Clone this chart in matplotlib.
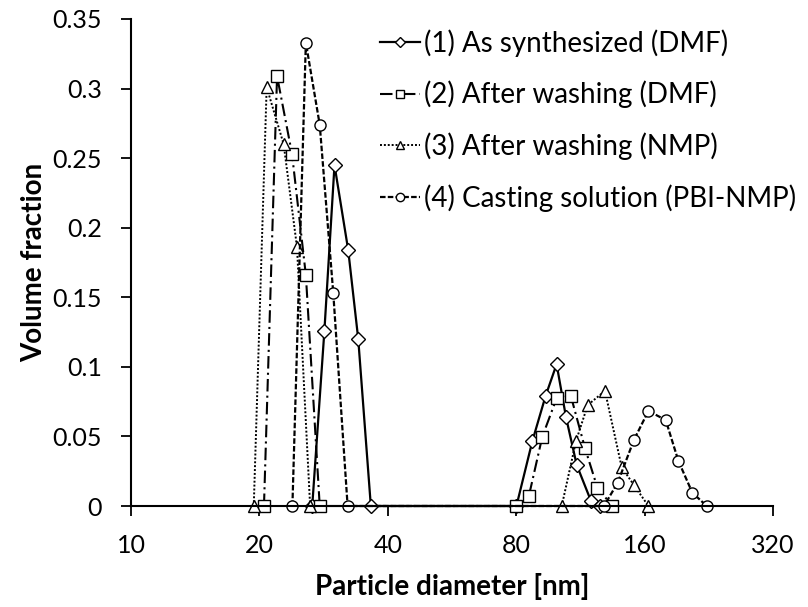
import matplotlib.pyplot as plt
from matplotlib.ticker import FixedLocator, FixedFormatter, NullLocator

plt.rcParams['font.family'] = ['Lato', 'DejaVu Sans']

# particle diameter [nm] and volume fraction for each sample
d1 = [26.6, 28.4, 30.0, 32.3, 34.1, 36.5, 80.1, 87.3, 93.8, 99.5, 104.7, 110.9, 119.8, 126.0]
v1 = [0, 0.1255, 0.245, 0.184, 0.120, 0, 0, 0.0467, 0.0793, 0.1019, 0.0637, 0.0295, 0.0036, 0]

d2 = [20.5, 22.0, 23.85, 25.7, 27.7, 80.0, 85.7, 92.1, 99.5, 107.4, 116.0, 124.0, 134.4]
v2 = [0, 0.309, 0.253, 0.166, 0, 0, 0.0074, 0.0498, 0.0774, 0.0793, 0.0415, 0.0132, 0]

d3 = [19.4, 20.8, 22.8, 24.5, 26.3, 102.3, 110.5, 117.7, 129.2, 141.4, 151.0, 163.3]
v3 = [0, 0.301, 0.260, 0.186, 0, 0, 0.0467, 0.0726, 0.0827, 0.0278, 0.0151, 0]

d4 = [23.9, 25.7, 27.7, 29.8, 32.2, 128.5, 138.4, 151.0, 163.3, 179.3, 192.0, 207.0, 223.7]
v4 = [0, 0.333, 0.274, 0.153, 0, 0, 0.0168, 0.0474, 0.0683, 0.0618, 0.0324, 0.0096, 0]

labels = ["(1) As synthesized (DMF)", "(2) After washing (DMF)",
          "(3) After washing (NMP)", "(4) Casting solution (PBI-NMP)"]

xticks = [10, 20, 40, 80, 160, 320]
yticks = [0, 0.05, 0.1, 0.15, 0.2, 0.25, 0.3, 0.35]
ytick_labels = ["0", "0.05", "0.1", "0.15", "0.2", "0.25", "0.3", "0.35"]

fig = plt.figure(figsize=(8.08, 6.07), dpi=100)
ax = fig.add_axes([131 / 808, 1 - 506 / 607, (773 - 131) / 808, (506 - 19) / 607])

common = dict(color='black', markerfacecolor='white', markeredgecolor='black',
              markeredgewidth=1.0, clip_on=False)
ax.plot(d1, v1, linestyle='-', lw=1.6, marker='D', markersize=7.2, label=labels[0], **common)
ax.plot(d2, v2, linestyle=(0, (6, 2, 1, 2)), lw=1.5, marker='s', markersize=8, label=labels[1], **common)
ax.plot(d3, v3, linestyle=(0, (1, 1)), lw=1.4, marker='^', markersize=8, label=labels[2], **common)
ax.plot(d4, v4, linestyle=(0, (2.5, 1)), lw=1.6, marker='o', markersize=8, label=labels[3], **common)

ax.set_xscale('log', base=2)
ax.set_xlim(10, 320)
ax.set_ylim(0, 0.35)
ax.xaxis.set_major_locator(FixedLocator(xticks))
ax.xaxis.set_major_formatter(FixedFormatter([str(t) for t in xticks]))
ax.xaxis.set_minor_locator(NullLocator())
ax.yaxis.set_major_locator(FixedLocator(yticks))
ax.yaxis.set_major_formatter(FixedFormatter(ytick_labels))

for side in ['top', 'right']:
    ax.spines[side].set_visible(False)
for side in ['left', 'bottom']:
    ax.spines[side].set_linewidth(1.5)
ax.tick_params(axis='both', direction='out', length=7, width=1.3, labelsize=18)
ax.tick_params(axis='y', pad=14)
ax.tick_params(axis='x', pad=13)

ax.set_xlabel("Particle diameter [nm]", fontsize=20, fontweight='bold', labelpad=12)
ax.set_ylabel("Volume fraction", fontsize=20, fontweight='bold', labelpad=4)

ax.legend(loc='upper left', bbox_to_anchor=(380 / 808, 1 - 29 / 607), bbox_transform=fig.transFigure,
          frameon=False, fontsize=20, handlelength=1.45, handletextpad=0.12, borderpad=0,
          labelspacing=0.87, markerscale=0.75, borderaxespad=0)

fig.savefig("out.png", dpi=100)
